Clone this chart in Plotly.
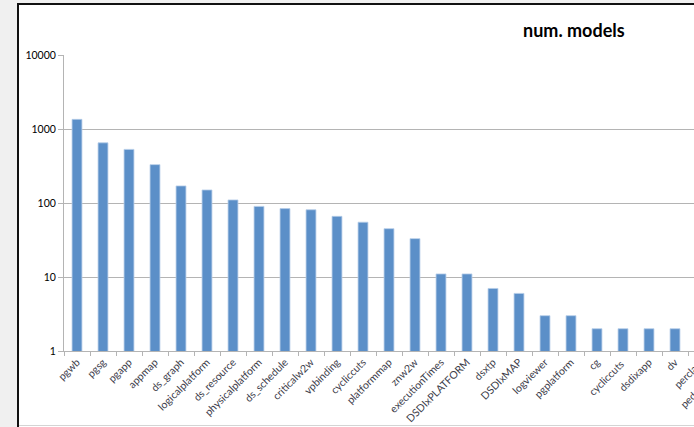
import plotly.graph_objects as go

# ---- data ----
categories = ["pgwb", "pgsg", "pgapp", "appmap", "ds_graph", "logicalplatform",
              "ds_resource", "physicalplatform", "ds_schedule", "criticalw2w",
              "vpbinding", "cycliccuts", "platformmap", "znw2w", "executionTimes",
              "DSDIxPLATFORM", "dsxtp", "DSDIxMAP", "logviewer", "pgplatform",
              "cg", "cycliccuts ", "dsdixapp", "dv", "perclass", "pedsimulation"]
num_models = [1350, 650, 530, 330, 170, 150, 110, 90, 84, 81, 66, 55, 45, 33,
              11, 11, 7, 6, 3, 3, 2, 2, 2, 2, 1, 1]
y_tickvals = [1, 10, 100, 1000, 10000]
y_ticktext = ["1", "10", "100", "1000", "10000"]
title_text = "num. models"

# ---- layout geometry (pixels) ----
W, H = 760, 427
ML, MR, MT, MB = 64, 20, 55, 76
PW = W - ML - MR
PH = H - MT - MB


def px_x(p):
    return (p - ML) / PW


def px_y(p):
    return (H - MB - p) / PH


FONT = "Lato, 'Open Sans', sans-serif"
GRID = "#b4b4b4"

fig = go.Figure(go.Bar(
    x=categories, y=num_models,
    marker=dict(color="#5b8fc8", line=dict(color="#b5cde8", width=0.8)),
    width=0.38,
))

shapes = [
    # grey window background on the left and top
    dict(type="rect", xref="paper", yref="paper", x0=px_x(-5), x1=px_x(17),
         y0=px_y(H + 5), y1=px_y(-5), fillcolor="#f0f0f0", line=dict(width=0)),
    dict(type="rect", xref="paper", yref="paper", x0=px_x(-5), x1=px_x(W + 5),
         y0=px_y(3), y1=px_y(-5), fillcolor="#f0f0f0", line=dict(width=0)),
    # black chart border (left, top)
    dict(type="line", xref="paper", yref="paper", x0=px_x(18), x1=px_x(18),
         y0=px_y(3), y1=px_y(H + 5), line=dict(color="#111111", width=2)),
    dict(type="line", xref="paper", yref="paper", x0=px_x(17), x1=px_x(W + 5),
         y0=px_y(4), y1=px_y(4), line=dict(color="#111111", width=2)),
    # light bottom edge
    dict(type="line", xref="paper", yref="paper", x0=px_x(19), x1=px_x(W + 5),
         y0=px_y(425.5), y1=px_y(425.5), line=dict(color="#d4d4d4", width=1)),
]

fig.update_layout(
    width=W, height=H,
    margin=dict(l=ML, r=MR, t=MT, b=MB, pad=0, autoexpand=False),
    paper_bgcolor="white", plot_bgcolor="white",
    showlegend=False,
    font=dict(family=FONT, size=10, color="#000000"),
    shapes=shapes,
    annotations=[dict(text="<b>" + title_text + "</b>", xref="paper", yref="paper",
                      x=px_x(574), y=px_y(30), xanchor="center", yanchor="middle",
                      showarrow=False, font=dict(family=FONT, size=18, color="#000000"))],
    bargap=0.62,
)
fig.update_xaxes(
    type="category", range=[-0.5, len(categories) - 0.5],
    showline=True, linecolor=GRID, linewidth=1,
    ticks="outside", tickson="boundaries", ticklen=4, tickcolor=GRID,
    tickangle=-45, tickfont=dict(family=FONT, size=10.5, color="#3c3c4a"),
    showgrid=False, fixedrange=True, automargin=False,
)
fig.update_yaxes(
    type="log", range=[0, 4],
    tickvals=y_tickvals, ticktext=y_ticktext,
    showgrid=True, gridcolor=GRID, gridwidth=1,
    showline=True, linecolor=GRID, linewidth=1,
    ticks="outside", ticklen=5, tickcolor=GRID,
    tickfont=dict(family=FONT, size=10.5, color="#000000"),
    zeroline=False, fixedrange=True, automargin=False,
)

fig.write_html(
    "out.html",
    config={"displayModeBar": False},
    post_script="document.body.style.margin='0';document.body.style.overflow='hidden';"
                "document.documentElement.style.overflow='hidden';",
)
